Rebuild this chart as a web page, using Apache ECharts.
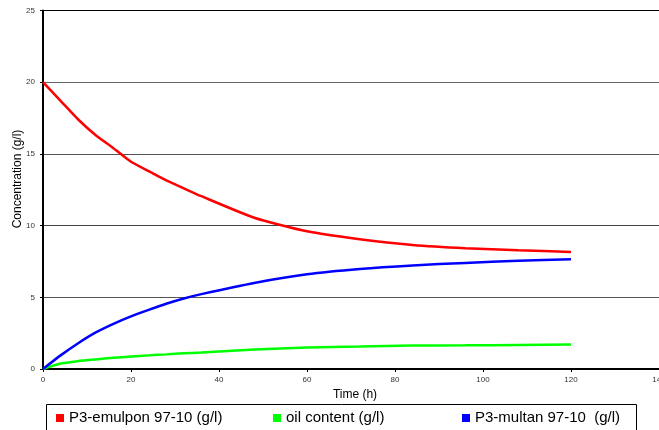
<!DOCTYPE html>
<html>
<head>
<meta charset="utf-8">
<title>Concentration vs time</title>
<script src="https://cdn.jsdelivr.net/npm/echarts@6/dist/echarts.min.js"></script>
<style>
  html, body { margin: 0; padding: 0; background: #fff; }
  #chart { width: 659px; height: 430px; }
</style>
</head>
<body>
<div id="chart"></div>
<script>
// Sampling times (h)
var hours = [0, 4, 8, 12, 16, 20, 24, 28, 32, 36, 48, 60, 72, 84, 96, 108, 120];

// Concentrations (g/l)
var emulpon = [20, 18.7, 17.4, 16.3, 15.4, 14.45, 13.8, 13.15, 12.6, 12.05, 10.55, 9.6, 9.05, 8.65, 8.42, 8.28, 8.16];
var oilContent = [0, 0.38, 0.55, 0.67, 0.78, 0.87, 0.95, 1.02, 1.09, 1.15, 1.36, 1.5, 1.57, 1.64, 1.65, 1.68, 1.7];
var multan = [0, 0.95, 1.8, 2.55, 3.15, 3.67, 4.12, 4.55, 4.92, 5.22, 6.0, 6.6, 6.97, 7.22, 7.4, 7.55, 7.65];

var seriesNames = ['P3-emulpon 97-10 (g/l)', 'oil content (g/l)', 'P3-multan 97-10  (g/l)'];
var seriesColors = ['#ff0000', '#00ff00', '#0000ff'];
var seriesValues = [emulpon, oilContent, multan];

var xTicks = { min: 0, max: 140, interval: 20 };
var yTicks = { min: 0, max: 25, interval: 5 };

function pairs(values) {
  return hours.map(function (h, i) { return [h, values[i]]; });
}

var font = '"Liberation Sans", Arial, sans-serif';
var legendLefts = [56, 273, 462];

var chart = echarts.init(document.getElementById('chart'), null, { renderer: 'canvas' });

chart.setOption({
  animation: false,
  backgroundColor: '#ffffff',
  grid: {
    left: 43, right: 0, top: 10.5, bottom: 61,
    containLabel: false,
    outerBoundsMode: 'none'
  },
  xAxis: {
    type: 'value',
    min: xTicks.min, max: xTicks.max, interval: xTicks.interval,
    name: 'Time (h)',
    nameLocation: 'middle',
    nameGap: 19,
    nameTextStyle: { fontFamily: font, fontSize: 12, color: '#000', padding: [0, 0, 0, 8] },
    axisLine: { show: true, onZero: false, lineStyle: { color: '#000', width: 2 } },
    axisTick: { show: true, inside: false, length: 3, lineStyle: { color: '#000' } },
    axisLabel: { fontFamily: font, fontSize: 8, color: '#333', margin: 7, hideOverlap: false },
    splitLine: { show: false }
  },
  yAxis: {
    type: 'value',
    min: yTicks.min, max: yTicks.max, interval: yTicks.interval,
    axisLine: { show: true, onZero: false, lineStyle: { color: '#000', width: 2 } },
    axisTick: { show: true, inside: false, length: 3, lineStyle: { color: '#000' } },
    axisLabel: { fontFamily: font, fontSize: 8, color: '#333', margin: 8 },
    splitLine: {
      show: true,
      lineStyle: { color: ['#000', '#555', '#444', '#555', '#666', '#000'], width: 1 }
    }
  },
  legend: seriesNames.map(function (name, i) {
    return {
      data: [name],
      left: legendLefts[i],
      top: 410,
      padding: 0,
      icon: 'rect',
      itemWidth: 8,
      itemHeight: 8,
      selectedMode: false,
      textStyle: { fontFamily: font, fontSize: 15, color: '#000', lineHeight: 16 }
    };
  }),
  graphic: [
    {
      type: 'rect',
      shape: { x: 46.5, y: 404.5, width: 590, height: 40 },
      style: { fill: 'none', stroke: '#000', lineWidth: 1 },
      z: 0
    },
    {
      type: 'text',
      x: 17.5,
      y: 179,
      rotation: Math.PI / 2,
      style: {
        text: 'Concentration (g/l)',
        font: '12px ' + font,
        fill: '#000',
        textAlign: 'center',
        textVerticalAlign: 'middle'
      }
    }
  ],
  series: seriesNames.map(function (name, i) {
    return {
      name: name,
      type: 'line',
      data: pairs(seriesValues[i]),
      showSymbol: false,
      symbol: 'none',
      smooth: 0.2,
      color: seriesColors[i],
      lineStyle: { color: seriesColors[i], width: 2.5 },
      z: 3
    };
  })
});
</script>
</body>
</html>
